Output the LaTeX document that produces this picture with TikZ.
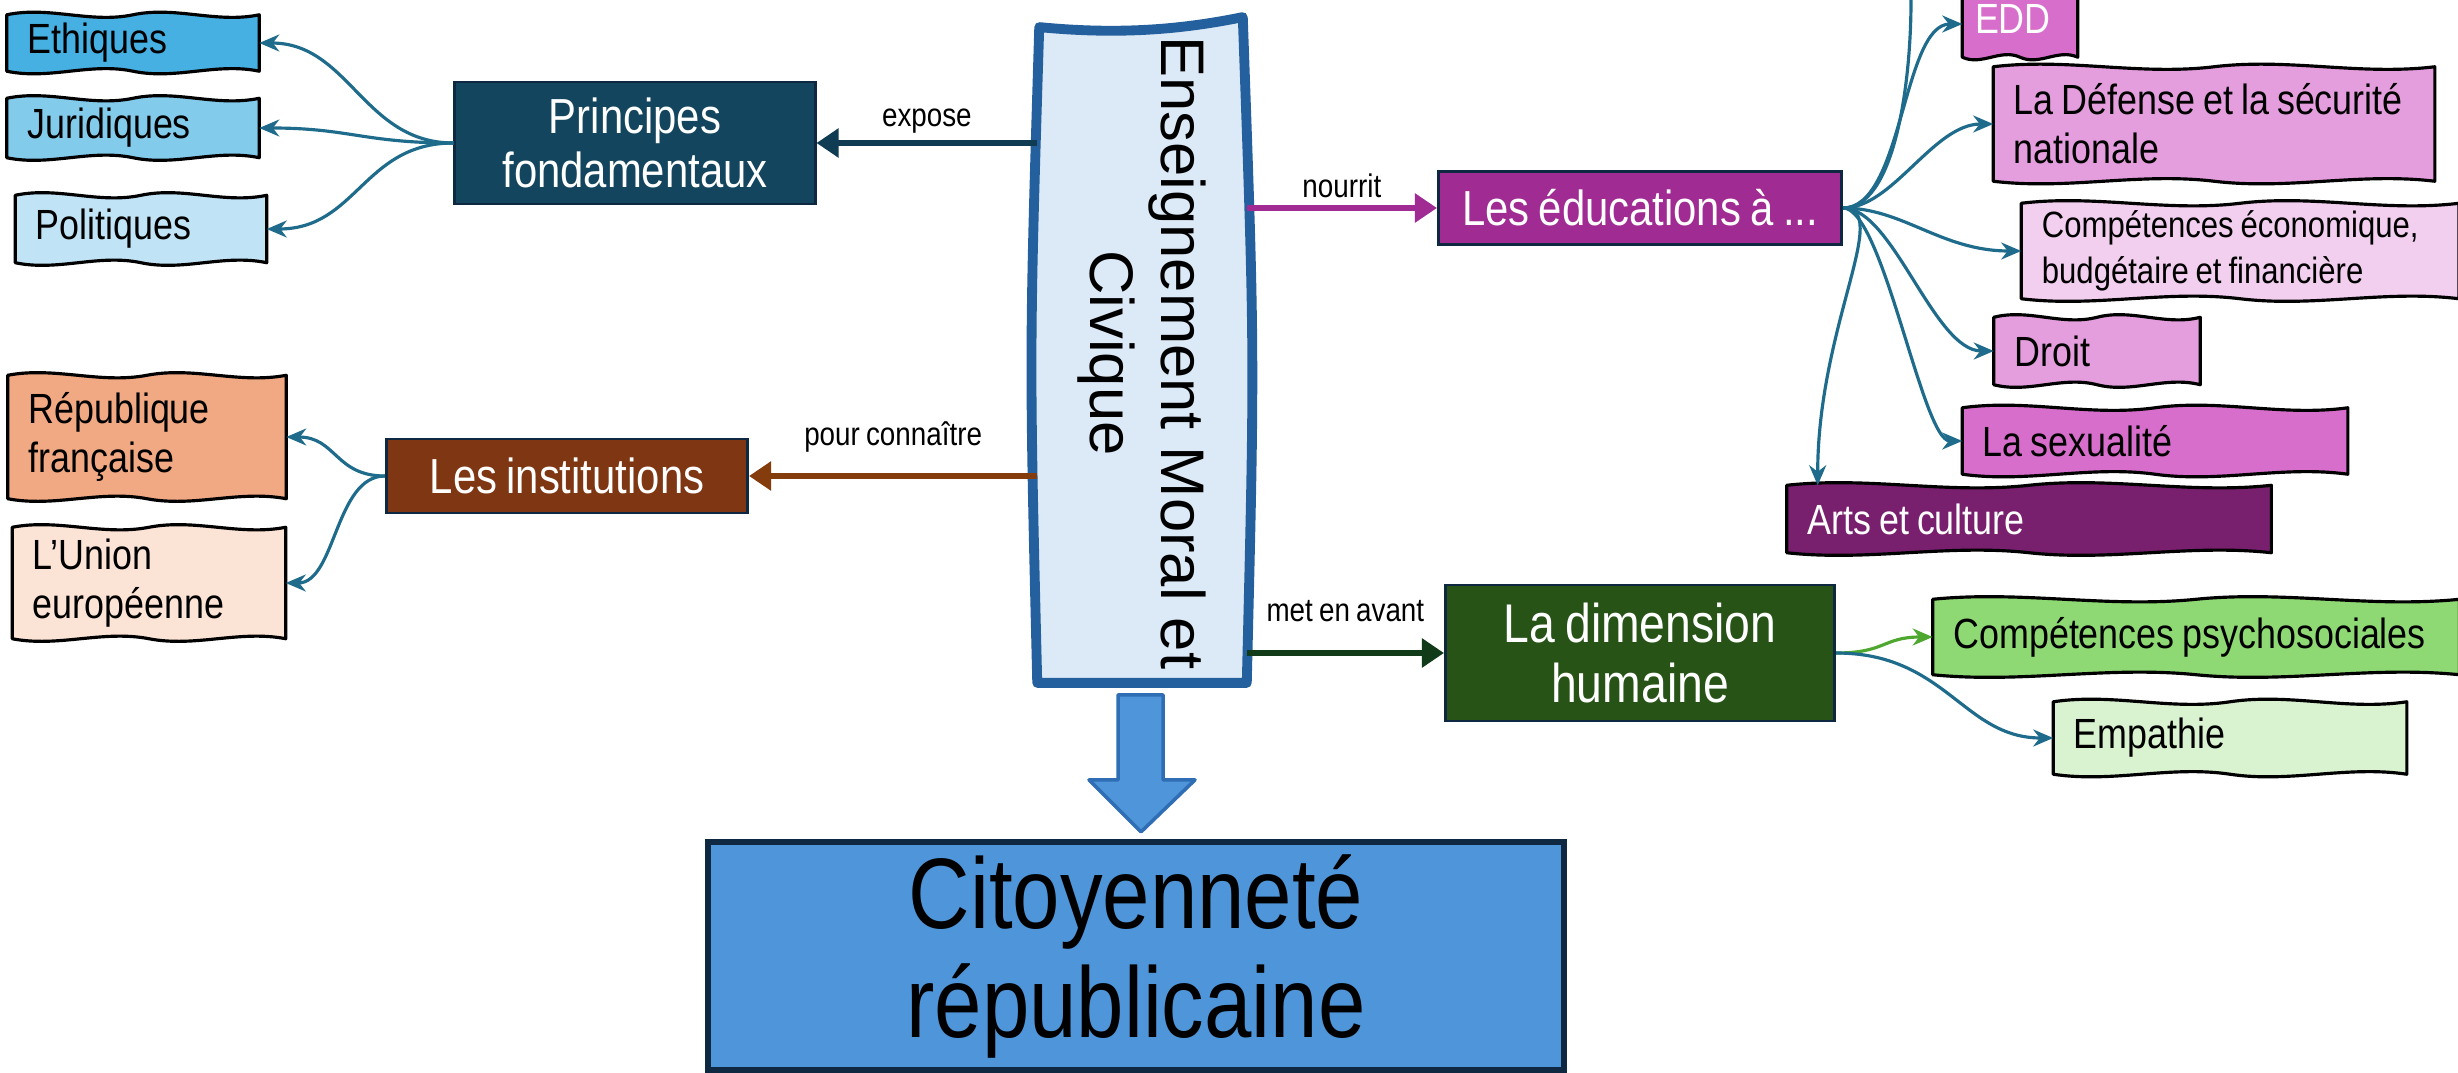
\documentclass[tikz,border=0pt]{standalone}
\usepackage{fontspec}
\setmainfont[FakeStretch=0.85, WordSpace=0.8]{Liberation Sans}
\newfontfamily\emcfont{Liberation Sans}
\usetikzlibrary{arrows.meta,calc,backgrounds}

\definecolor{navy}{HTML}{0E2841}
\definecolor{linkteal}{HTML}{1F6B8C}
\definecolor{ethblue}{HTML}{45B0E1}
\definecolor{jurblue}{HTML}{83CBEB}
\definecolor{polblue}{HTML}{C0E4F5}
\definecolor{prinfill}{HTML}{13465E}
\definecolor{exposecol}{HTML}{0F3C52}
\definecolor{repfill}{HTML}{F1A983}
\definecolor{uefill}{HTML}{FBE3D6}
\definecolor{instfill}{HTML}{7F3612}
\definecolor{instcol}{HTML}{843C0C}
\definecolor{educfill}{HTML}{A02B93}
\definecolor{eddfill}{HTML}{D86ECC}
\definecolor{deffill}{HTML}{E49EDD}
\definecolor{ecofill}{HTML}{F2CEEF}
\definecolor{artsfill}{HTML}{78206E}
\definecolor{dimfill}{HTML}{275317}
\definecolor{dimcol}{HTML}{113B18}
\definecolor{psyfill}{HTML}{8ED973}
\definecolor{empfill}{HTML}{D9F2D0}
\definecolor{psycol}{HTML}{4EA72E}
\definecolor{emcblue}{HTML}{25609E}
\definecolor{emcfill}{HTML}{DCE9F7}
\definecolor{citfill}{HTML}{4E95D9}
\definecolor{bigline}{HTML}{2F6DB5}

\tikzset{
  item/.style={inner xsep=0.2cm, inner ysep=0pt, align=flush left, font=\fontsize{12}{14}\selectfont},
  cat/.style={draw=navy, line width=0.8pt, text=white, align=center, inner sep=0pt, font=\fontsize{14}{15.5}\selectfont},
  lbl/.style={text=black, font=\fontsize{9.3}{11}\selectfont, inner sep=2pt},
  link/.style={draw=linkteal, line width=0.9pt, -{Stealth[length=0.2cm,width=0.17cm]}},
  main/.style={line width=1.7pt, -{Triangle[length=0.22cm,width=0.28cm]}},
  sketch/.style={draw=black, line width=0.9pt, line join=round},
}

\begin{document}
\begin{tikzpicture}[x=0.01cm, y=-0.01cm]
  \useasboundingbox (0,0) rectangle (2458,1073);

  % Central block
  \node[minimum width=2.08cm, minimum height=6.58cm, inner sep=0pt] (emc) at (1142,353) {};
  \node[rotate=-90, align=center, font=\emcfont\fontsize{17.5}{20}\selectfont] (emctxt) at (emc.center) {Enseignement Moral et\\Civique};

  % Left side
  \node[cat, fill=prinfill, minimum width=3.60cm, minimum height=1.22cm] (prin) at (635,143) {Principes\\fondamentaux};
  \node[item, text width=2.11cm, minimum height=0.55cm] (eth) at (133,43) {Ethiques};
  \node[item, text width=2.11cm, minimum height=0.58cm] (jur) at (133,128) {Juridiques};
  \node[item, text width=2.10cm, minimum height=0.66cm] (pol) at (141,229) {Politiques};

  \node[cat, fill=instfill, minimum width=3.61cm, minimum height=0.74cm] (inst) at (567,476) {Les institutions};
  \node[item, text width=2.37cm, minimum height=1.22cm] (rep) at (147,437) {République\\française};
  \node[item, text width=2.32cm, minimum height=1.10cm] (ue) at (149,583) {L’Union\\européenne};

  % Right side
  \node[cat, fill=educfill, minimum width=4.03cm, minimum height=0.73cm] (educ) at (1640,208) {Les éducations à ...};
  \node[item, text=white, inner xsep=0.12cm, text width=0.90cm, minimum height=0.75cm] (edd) at (2020,19) {EDD};
  \node[item, text width=4.00cm, minimum height=1.13cm] (def) at (2214,124) {La Défense et la sécurité\\nationale};
  \node[item, text width=3.96cm, minimum height=0.94cm, font=\fontsize{10.4}{13}\selectfont] (eco) at (2240,251) {Compétences économique,\\budgétaire et financière};
  \node[item, text width=1.65cm, minimum height=0.66cm] (droit) at (2097,351) {Droit};
  \node[item, text width=3.44cm, minimum height=0.65cm] (sexu) at (2155,441) {La sexualité};
  \node[item, text=white, text width=4.43cm, minimum height=0.66cm] (arts) at (2029,519) {Arts et culture};
  \coordinate (edtop) at (1911,0);

  \node[cat, fill=dimfill, minimum width=3.89cm, minimum height=1.36cm, font=\fontsize{15.5}{17}\selectfont] (dim) at (1640,653) {La dimension\\humaine};
  \node[item, text width=4.85cm, minimum height=0.74cm] (psy) at (2196,637) {Compétences psychosociales};
  \node[item, text width=3.12cm, minimum height=0.71cm] (emp) at (2230,738) {Empathie};

  % Result
  \node[draw=navy, fill=citfill, line width=1.8pt, minimum width=8.55cm, minimum height=2.28cm, align=center, font=\fontsize{28.5}{31}\selectfont] (cit) at (1136,956) {Citoyenneté\\républicaine};

  % Hand drawn boxes
  \begin{scope}[on background layer]
    \filldraw[draw=emcblue, fill=emcfill, line width=2.8pt, line join=round] (emc.south west) .. controls ($(emc.west)+(-8,0)$) .. ($(emc.north west)+(2,4)$) .. controls ($(emc.north west)!.4!(emc.north east)+(0,12)$) and ($(emc.north west)!.7!(emc.north east)+(0,6)$) .. ($(emc.north east)+(-4,-6)$) .. controls ($(emc.east)+(8,0)$) .. (emc.south east) -- cycle;
    \foreach \n/\c in {eth/ethblue, jur/jurblue, pol/polblue, rep/repfill, ue/uefill, edd/eddfill, def/deffill, eco/ecofill, droit/deffill, sexu/eddfill, arts/artsfill, psy/psyfill, emp/empfill}
      \filldraw[sketch, fill=\c] (\n.south west) -- (\n.north west)
        .. controls ($(\n.north west)!.17!(\n.north east)+(0,-9)$) and ($(\n.north west)!.33!(\n.north east)+(0,9)$) .. (\n.north)
        .. controls ($(\n.north west)!.67!(\n.north east)+(0,-9)$) and ($(\n.north west)!.83!(\n.north east)+(0,9)$) .. (\n.north east)
        -- (\n.south east)
        .. controls ($(\n.south east)!.17!(\n.south west)+(0,-9)$) and ($(\n.south east)!.33!(\n.south west)+(0,9)$) .. (\n.south)
        .. controls ($(\n.south east)!.67!(\n.south west)+(0,-9)$) and ($(\n.south east)!.83!(\n.south west)+(0,9)$) .. (\n.south west) -- cycle;
  \end{scope}

  % Main arrows out of the central block
  \draw[main, exposecol] (emc.west |- prin.east) -- node[lbl, above] (lexpose) {expose} (prin.east);
  \draw[main, instcol] (emc.west |- inst.east) -- node[lbl, above=4pt] (lpour) {pour connaître} (inst.east);
  \draw[main, educfill] (emc.east |- educ.west) -- node[lbl, above] (lnourrit) {nourrit} (educ.west);
  \draw[main, dimcol] (emc.east |- dim.west) -- node[lbl, above=6pt] (lmet) {met en avant} (dim.west);

  % Branches
  \draw[link] (prin.west) .. controls +(-90,0) and +(90,0) .. (eth.east);
  \draw[link] (prin.west) .. controls +(-90,0) and +(90,0) .. (jur.east);
  \draw[link] (prin.west) .. controls +(-90,0) and +(90,0) .. (pol.east);
  \draw[link] (inst.west) .. controls +(-50,0) and +(50,0) .. (rep.east);
  \draw[link] (inst.west) .. controls +(-50,0) and +(50,0) .. (ue.east);

  \draw[link] (educ.east) .. controls +(60,0) and +(-60,0) .. ([yshift=-0.05cm]edd.west);
  \draw[link] (educ.east) .. controls +(50,0) and +(-60,0) .. (def.west);
  \draw[link] (educ.east) .. controls +(60,0) and +(-80,0) .. (eco.west);
  \draw[link] (educ.east) .. controls +(50,0) and +(-60,0) .. (droit.west);
  \draw[link] (educ.east) .. controls +(40,0) and +(-40,0) .. (sexu.west);
  \draw[link] (educ.east) .. controls +(50,0) and +(0,-160) .. ([xshift=0.31cm]arts.north west);
  \draw[linkteal, line width=0.9pt] (educ.east) .. controls +(50,0) and +(0,90) .. (edtop);

  \draw[link, draw=psycol] (dim.east) .. controls +(50,0) and +(-50,0) .. (psy.west);
  \draw[link] (dim.east) .. controls +(110,0) and +(-90,0) .. (emp.west);

  % Block arrow down to the result
  \filldraw[fill=citfill, draw=bigline, line width=1pt, line join=round] ($(emc.south)+(-24,12)$) -- ($(emc.south)+(21,12)$) -- ($(emc.south)+(21,97)$) -- ($(emc.south)+(53,97)$) -- ($(emc.south)+(-1,149)$) -- ($(emc.south)+(-53,97)$) -- ($(emc.south)+(-24,97)$) -- cycle;
\end{tikzpicture}
\end{document}
